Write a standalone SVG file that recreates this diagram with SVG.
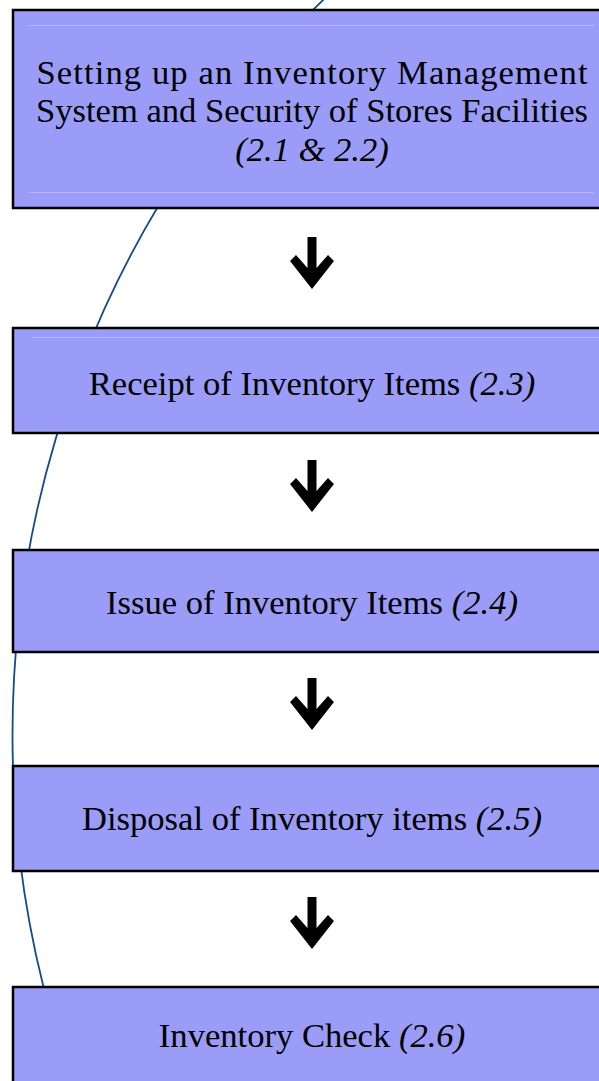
<svg xmlns="http://www.w3.org/2000/svg" width="599" height="1081" viewBox="0 0 599 1081">
  <defs>
    <style>
      .step { fill: #9a9cf7; stroke: #000; stroke-width: 2.5; }
      .rule { stroke: #b4b7fb; stroke-width: 1; }
      .label { font-family: "Liberation Serif", "Times New Roman", serif; font-size: 34.6px; fill: #000; text-anchor: middle; }
      .ref { font-style: italic; }
      .arrow { fill: #000; }
      .cycle { fill: none; stroke: #154b8c; stroke-width: 1.8; }
    </style>
    <polygon id="down" points="-4.5,0 4.5,0 4.5,31 16,18 22,24 0,52 -22,24 -16,18 -4.5,31"/>
  </defs>
  <rect width="599" height="1081" fill="#fff"/>

  <!-- connectors: the cycle arc behind the steps and the down arrows between them -->
  <g id="connectors">
    <ellipse class="cycle" cx="977.5" cy="735" rx="965" ry="1000"/>
    <use href="#down" class="arrow" x="312" y="237"/>
    <use href="#down" class="arrow" x="312" y="460"/>
    <use href="#down" class="arrow" x="312" y="678"/>
    <use href="#down" class="arrow" x="312" y="897"/>
  </g>

  <g id="step-setup">
    <rect class="step" x="13" y="10" width="620" height="198"/>
    <line class="rule" x1="28" y1="25.5" x2="594" y2="25.5"/>
    <line class="rule" x1="28" y1="192.5" x2="594" y2="192.5"/>
    <text class="label" x="312" y="84" textLength="551" lengthAdjust="spacing">Setting up an Inventory Management</text>
    <text class="label" x="312" y="122" textLength="552" lengthAdjust="spacing">System and Security of Stores Facilities</text>
    <text class="label ref" x="312" y="161">(2.1 &amp; 2.2)</text>
  </g>

  <g id="step-receipt">
    <rect class="step" x="13" y="328" width="620" height="105"/>
    <line class="rule" x1="32" y1="337.5" x2="599" y2="337.5"/>
    <text class="label" x="312" y="395">Receipt of Inventory Items <tspan class="ref">(2.3)</tspan></text>
  </g>

  <g id="step-issue">
    <rect class="step" x="13" y="550" width="620" height="102"/>
    <text class="label" x="312" y="614">Issue of Inventory Items <tspan class="ref">(2.4)</tspan></text>
  </g>

  <g id="step-disposal">
    <rect class="step" x="13" y="766" width="620" height="105"/>
    <text class="label" x="312" y="830">Disposal of Inventory items <tspan class="ref">(2.5)</tspan></text>
  </g>

  <g id="step-check">
    <rect class="step" x="13" y="987" width="620" height="130"/>
    <text class="label" x="312" y="1047">Inventory Check <tspan class="ref">(2.6)</tspan></text>
  </g>
</svg>
